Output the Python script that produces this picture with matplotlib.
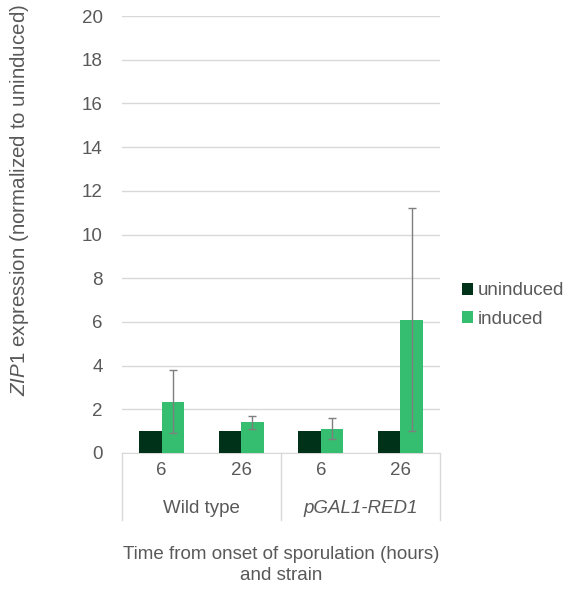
import matplotlib
matplotlib.use("Agg")
import matplotlib.pyplot as plt
import matplotlib.transforms as mtransforms
import numpy as np

plt.rcParams['font.family'] = ['Liberation Sans', 'DejaVu Sans']
plt.rcParams['mathtext.fontset'] = 'custom'
plt.rcParams['mathtext.rm'] = 'Liberation Sans'
plt.rcParams['mathtext.it'] = 'Liberation Sans:italic'

times = ["6", "26", "6", "26"]
strains = ["Wild type", "pGAL1-RED1"]
uninduced = [1.0, 1.0, 1.0, 1.0]
induced = [2.35, 1.4, 1.12, 6.1]
err_low = [0.9, 1.1, 0.65, 1.0]
err_high = [3.8, 1.7, 1.6, 11.2]

TXT = "#595959"
DARK = "#00321a"
GREEN = "#35be6f"
FS = 13.5

fig = plt.figure(figsize=(5.69, 5.92), dpi=100)
ax = fig.add_axes([0.2144, 0.2348, 0.5589, 0.738])

x = np.arange(len(times))
w = 0.283
ax.bar(x - w/2, uninduced, w, color=DARK, label="uninduced", zorder=3)
ax.bar(x + w/2, induced, w, color=GREEN, label="induced", zorder=3)
ind = np.array(induced)
yerr = [ind - np.array(err_low), np.array(err_high) - ind]
ax.errorbar(x + w/2, induced, yerr=yerr, fmt="none", ecolor="#7f7f7f",
            elinewidth=1, capsize=3, capthick=1, zorder=4)

ax.set_xlim(-0.5, 3.5)
ax.set_ylim(0, 20)
ax.set_yticks(np.arange(0, 21, 2))
ax.grid(axis="y", color="#d9d9d9", linewidth=1, zorder=0)
for s in ["top", "right", "left"]:
    ax.spines[s].set_visible(False)
ax.spines["bottom"].set_color("#d9d9d9")
ax.tick_params(axis="y", length=0, labelsize=FS, labelcolor=TXT, pad=14)
ax.set_xticks([])

trans = mtransforms.blended_transform_factory(ax.transData, ax.transAxes)
for xv in [-0.5, 1.5, 3.5]:
    ax.plot([xv, xv], [0, -0.153], transform=trans, color="#d9d9d9",
            linewidth=1, clip_on=False)
for xi, t in zip(x, times):
    ax.text(xi, -0.041, t, transform=trans, ha="center", va="center",
            fontsize=FS, color=TXT)
ax.text(0.5, -0.126, strains[0], transform=trans, ha="center", va="center",
        fontsize=FS, color=TXT)
ax.text(2.5, -0.126, strains[1], transform=trans, ha="center", va="center",
        fontsize=FS, color=TXT, style="italic")

fig.text(281/569, 1 - 565/592, "Time from onset of sporulation (hours)\nand strain",
         ha="center", va="center", fontsize=FS, color=TXT, linespacing=1.3)

fig.text(20/569, 1 - 200/592, r"$\it{ZIP1}$ expression (normalized to uninduced)",
         rotation=90, ha="center", va="center", fontsize=14.8, color=TXT)

leg = fig.legend(loc="center left", bbox_to_anchor=(462/569, 1 - 305/592),
                 frameon=False, fontsize=FS, handlelength=0.6, handleheight=0.6,
                 handletextpad=0.25, labelspacing=0.6, labelcolor=TXT,
                 borderpad=0, borderaxespad=0)

fig.savefig("out.png", dpi=100)
